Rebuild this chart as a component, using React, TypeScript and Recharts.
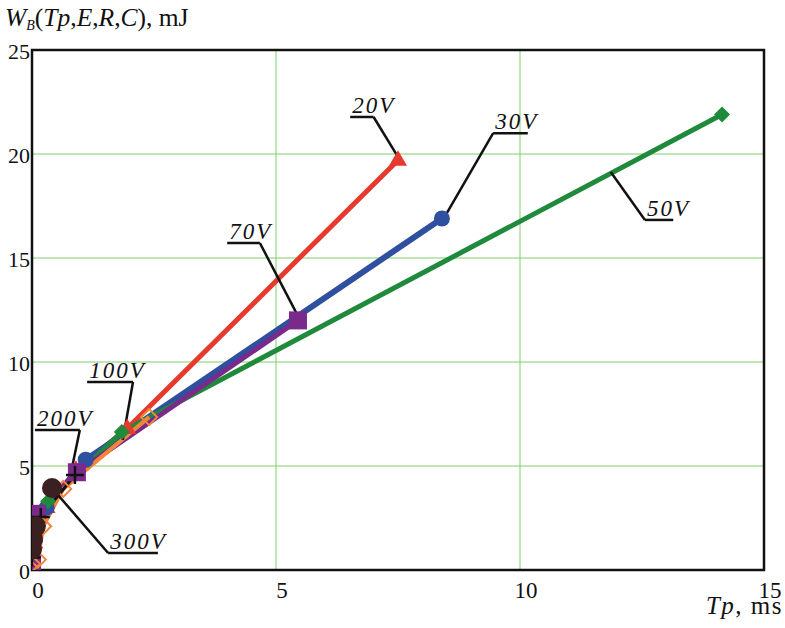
import React from "react";
import {
  LineChart,
  Line,
  XAxis,
  YAxis,
  CartesianGrid,
  ReferenceArea,
  ReferenceLine,
} from "recharts";

// Tp (ms) and W (mJ) per supply voltage.
const V20_TP = [0, 0.05, 0.3, 0.9, 1.95, 7.5];
const V20_W = [0.3, 1.3, 3.0, 4.8, 6.8, 19.7];

const V30_TP = [0, 0.05, 0.3, 1.1, 8.4];
const V30_W = [0.2, 1.4, 3.0, 5.3, 16.9];

const V50_TP = [0, 0.05, 0.33, 1.84, 14.14];
const V50_W = [0.4, 1.6, 3.3, 6.63, 21.9];

const V70_TP = [0, 0.1, 0.92, 5.45];
const V70_W = [0.3, 2.7, 4.7, 12.0];

const V100_TP = [0, 0.12, 0.23, 0.64, 2.4];
const V100_W = [0.3, 0.5, 2.1, 3.9, 7.35];

const V200_TP = [0, 0.03, 0.18, 0.88];
const V200_W = [0.6, 1.4, 2.55, 4.57];

const V300_TP = [0, 0.02, 0.08, 0.41];
const V300_W = [1.0, 1.5, 2.1, 3.94];

const X_TICKS = [0, 5, 10, 15];
const Y_TICKS = [0, 5, 10, 15, 20, 25];

// callouts: underline [x1, x2, y] and leader [[x, y], [x, y]] in data units
const NOTES = [
  { text: "20V", under: [6.52, 7.0, 21.78], leader: [[7.0, 21.78], [7.54, 19.71]] },
  { text: "30V", under: [9.45, 10.16, 21.0], leader: [[9.45, 21.0], [8.5, 17.16]] },
  { text: "50V", under: [12.56, 13.14, 16.83], leader: [[11.86, 19.13], [12.56, 16.83]] },
  { text: "70V", under: [4.0, 4.67, 15.72], leader: [[4.67, 15.72], [5.47, 12.12]] },
  { text: "100V", under: [1.13, 2.07, 9.04], leader: [[2.07, 9.04], [1.86, 6.25]] },
  { text: "200V", under: [0.06, 0.98, 6.73], leader: [[0.98, 6.73], [0.78, 4.47]] },
  { text: "300V", under: [1.56, 2.58, 0.82], leader: [[0.41, 3.94], [1.56, 0.82]] },
];

const toPts = (tp: number[], w: number[]) => tp.map((x, i) => ({ x, y: w[i] }));

const SERIF = "'Liberation Serif', 'Times New Roman', serif";

type Shape = "triangle" | "circle" | "diamond" | "square" | "hollowDiamond" | "plus";

function marker(shape: Shape, color: string, s: number) {
  return (p: any) => {
    const { cx, cy, index } = p;
    const k = `m-${shape}-${index}`;
    if (cx == null || cy == null) return <g key={k} />;
    if (shape === "triangle")
      return (
        <polygon
          key={k}
          points={`${cx},${cy - s} ${cx + s * 0.9},${cy + s * 0.55} ${cx - s * 0.9},${cy + s * 0.55}`}
          fill={color}
        />
      );
    if (shape === "circle") return <circle key={k} cx={cx} cy={cy} r={s} fill={color} />;
    if (shape === "square")
      return <rect key={k} x={cx - s} y={cy - s} width={2 * s} height={2 * s} fill={color} />;
    if (shape === "plus")
      return (
        <path
          key={k}
          d={`M${cx - s},${cy}H${cx + s}M${cx},${cy - s}V${cy + s}`}
          stroke={color}
          strokeWidth={2.5}
        />
      );
    const d = `M${cx},${cy - s}L${cx + s},${cy}L${cx},${cy + s}L${cx - s},${cy}Z`;
    if (shape === "hollowDiamond")
      return <path key={k} d={d} fill="none" stroke={color} strokeWidth={2} />;
    return <path key={k} d={d} fill={color} />;
  };
}

function NoteText({ viewBox, text }: any) {
  const x = viewBox?.x ?? 0;
  const y = viewBox?.y ?? 0;
  return (
    <text
      x={x + 2}
      y={y - 4}
      fontFamily={SERIF}
      fontStyle="italic"
      fontSize={23}
      letterSpacing={2}
      fill="#111"
      style={{ fontFamily: SERIF }}
    >
      {text}
    </text>
  );
}

function XTick({ x, y, payload }: any) {
  return (
    <text
      x={x + 6}
      y={y + 28}
      textAnchor="middle"
      fill="#111"
      fontFamily={SERIF}
      fontSize={23}
      style={{ fontFamily: SERIF }}
    >
      {payload.value}
    </text>
  );
}

function YTick({ x, y, payload }: any) {
  return (
    <text
      x={x}
      y={y + 9}
      textAnchor="end"
      fill="#111"
      fontFamily={SERIF}
      fontSize={22}
      style={{ fontFamily: SERIF }}
    >
      {payload.value}
    </text>
  );
}

const SERIES = [
  { tp: V20_TP, w: V20_W, color: "#e63a2e", width: 5, shape: "triangle" as Shape, size: 10 },
  { tp: V30_TP, w: V30_W, color: "#2f4f9f", width: 6, shape: "circle" as Shape, size: 8 },
  { tp: V50_TP, w: V50_W, color: "#1f8a3c", width: 5, shape: "diamond" as Shape, size: 8 },
  { tp: V70_TP, w: V70_W, color: "#7a2a8a", width: 5, shape: "square" as Shape, size: 9 },
  { tp: V100_TP, w: V100_W, color: "#f3853a", width: 4, shape: "hollowDiamond" as Shape, size: 8 },
  { tp: V200_TP, w: V200_W, color: "#111111", width: 3, shape: "plus" as Shape, size: 9 },
  { tp: V300_TP, w: V300_W, color: "#3a2020", width: 5, shape: "circle" as Shape, size: 10 },
];

export default function App() {
  return (
    <div
      style={{
        position: "absolute",
        left: 0,
        top: 0,
        width: 785,
        height: 628,
        background: "#fff",
        fontFamily: SERIF,
      }}
    >
      <LineChart
        width={785}
        height={628}
        margin={{ top: 50, right: 21, bottom: 0, left: 0 }}
        style={{ fontFamily: SERIF }}
      >
        <CartesianGrid stroke="#7fcf6a" strokeWidth={1} />
        <XAxis
          type="number"
          dataKey="x"
          domain={[0, 15]}
          ticks={X_TICKS}
          allowDataOverflow
          axisLine={false}
          tickLine={false}
          tickSize={0}
          tickMargin={0}
          height={58}
          tick={<XTick />}
        />
        <YAxis
          type="number"
          dataKey="y"
          domain={[0, 25]}
          ticks={Y_TICKS}
          allowDataOverflow
          axisLine={false}
          tickLine={false}
          tickSize={0}
          tickMargin={2}
          width={32}
          tick={<YTick />}
        />
        <ReferenceArea x1={0} x2={15} y1={0} y2={25} fill="none" stroke="#111" strokeWidth={2.5} />
        {SERIES.map((s, i) => (
          <Line
            key={i}
            data={toPts(s.tp, s.w)}
            dataKey="y"
            type="linear"
            stroke={s.color}
            strokeWidth={s.width}
            dot={marker(s.shape, s.color, s.size)}
            activeDot={false}
            isAnimationActive={false}
          />
        ))}
        {NOTES.map((n) => (
          <ReferenceLine
            key={n.text + "-l"}
            segment={[
              { x: n.leader[0][0], y: n.leader[0][1] },
              { x: n.leader[1][0], y: n.leader[1][1] },
            ]}
            stroke="#111"
            strokeWidth={2.5}
          />
        ))}
        {NOTES.map((n) => (
          <ReferenceLine
            key={n.text + "-u"}
            segment={[
              { x: n.under[0], y: n.under[2] },
              { x: n.under[1], y: n.under[2] },
            ]}
            stroke="#111"
            strokeWidth={2.5}
            label={<NoteText text={n.text} />}
          />
        ))}
      </LineChart>
      <svg
        width={785}
        height={628}
        style={{ position: "absolute", left: 0, top: 0, pointerEvents: "none" }}
      >
        <text x={5} y={26} fill="#111" fontFamily={SERIF} fontSize={25.5}>
          <tspan fontStyle="italic">W</tspan>
          <tspan fontStyle="italic" fontSize={14} dy={4}>B</tspan>
          <tspan dy={-4}>(</tspan>
          <tspan fontStyle="italic">Tp</tspan>
          <tspan>,</tspan>
          <tspan fontStyle="italic">E</tspan>
          <tspan>,</tspan>
          <tspan fontStyle="italic">R</tspan>
          <tspan>,</tspan>
          <tspan fontStyle="italic">C</tspan>
          <tspan>), mJ</tspan>
        </text>
        <text
          x={783}
          y={614}
          textAnchor="end"
          fill="#111"
          fontFamily={SERIF}
          fontSize={25}
          letterSpacing={1.5}
        >
          <tspan fontStyle="italic">Tp</tspan>
          <tspan>, ms</tspan>
        </text>
      </svg>
    </div>
  );
}
